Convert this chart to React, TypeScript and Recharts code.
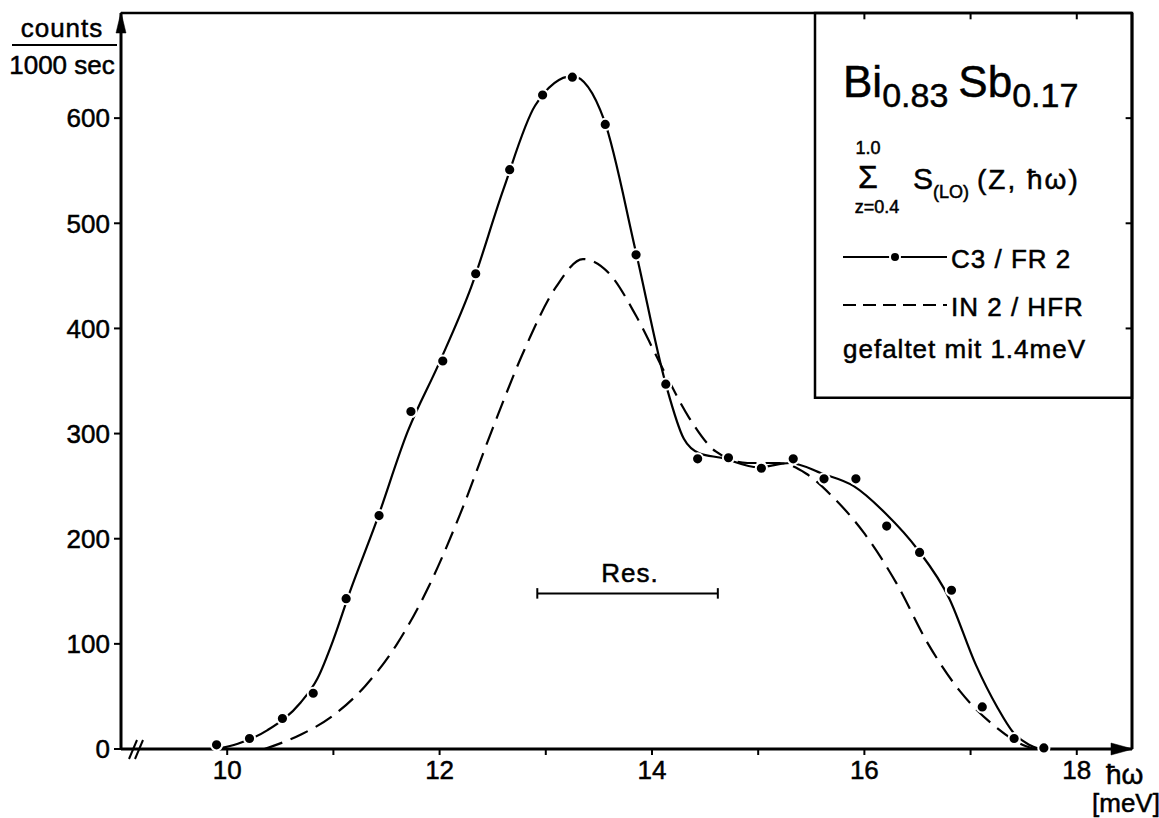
import React from "react";
import {
  ComposedChart,
  Line,
  Scatter,
  XAxis,
  YAxis,
  ReferenceLine,
  ReferenceArea,
} from "recharts";

// measured points (C3 / FR 2)
const dotX = [9.9, 10.21, 10.52, 10.81, 11.12, 11.43, 11.73, 12.03, 12.34, 12.66, 12.97, 13.25, 13.56, 13.85, 14.13, 14.43, 14.72, 15.03, 15.33, 15.62, 15.92, 16.21, 16.52, 16.82, 17.11, 17.41, 17.69];
const dotY = [4, 10, 29, 53, 143, 222, 321, 369, 452, 551, 622, 639, 594, 470, 347, 276, 277, 267, 276, 257, 257, 212, 187, 151, 40, 10, 1];

// solid curve through the points
const solidX = [9.9, 10.1, 10.38, 10.69, 10.85, 11.0, 11.15, 11.4, 11.7, 12.0, 12.3, 12.6, 12.9, 13.25, 13.55, 13.85, 14.13, 14.3, 14.45, 14.65, 15.0, 15.3, 15.6, 15.9, 16.2, 16.5, 16.8, 17.05, 17.25, 17.4, 17.55, 17.65];
const solidY = [0, 5, 18, 44, 67, 104, 148, 215, 302, 368, 440, 532, 612, 640, 598, 472, 347, 295, 281, 277, 268, 272, 262, 250, 224, 190, 143, 80, 40, 16, 4, 0];

// dashed curve (IN 2 / HFR)
const dashX = [10.35, 10.7, 11.0, 11.3, 11.6, 11.9, 12.2, 12.5, 12.8, 13.1, 13.35, 13.6, 13.85, 14.1, 14.35, 14.6, 14.9, 15.2, 15.45, 15.7, 16.0, 16.3, 16.6, 16.9, 17.2, 17.45, 17.6];
const dashY = [0, 14, 32, 60, 100, 155, 225, 305, 380, 440, 466, 452, 412, 362, 315, 283, 272, 272, 262, 240, 205, 158, 100, 55, 24, 6, 0];

const xTicks = [10, 11, 12, 13, 14, 15, 16, 17, 18];
const yTicks = [0, 100, 200, 300, 400, 500, 600];

const FONT = "'Liberation Sans', Arial, sans-serif";

const Dot = (props: any) => {
  const { cx, cy } = props;
  if (cx == null || cy == null) return null;
  return <circle cx={cx} cy={cy} r={5.6} fill="#000" stroke="#fff" strokeWidth={2} />;
};

export default function App() {
  const dots = dotX.map((x, i) => ({ x, y: dotY[i] }));
  const solid = solidX.map((x, i) => ({ x, y: solidY[i] }));
  const dashed = dashX.map((x, i) => ({ x, y: dashY[i] }));

  const tickStyle = { fill: "#000", fontSize: 26, fontFamily: FONT, stroke: "#000", strokeWidth: 0.5 };

  return (
    <div style={{ position: "absolute", left: 0, top: 0, width: 1159, height: 818, background: "#fff" }}>
      <ComposedChart width={1159} height={818} margin={{ top: 13, right: 27, bottom: 39, left: 61 }}>
        <XAxis
          type="number"
          dataKey="x"
          domain={[9, 18.52]}
          ticks={xTicks}
          tickFormatter={(v: number) => (v % 2 === 0 ? String(v) : "")}
          height={30}
          tick={tickStyle}
          tickSize={6}
          tickMargin={6}
          axisLine={{ stroke: "#000", strokeWidth: 3 }}
          tickLine={{ stroke: "#000", strokeWidth: 2 }}
        />
        <YAxis
          type="number"
          dataKey="y"
          domain={[0, 700]}
          ticks={yTicks}
          width={60}
          tick={tickStyle}
          tickSize={7}
          tickMargin={4}
          axisLine={{ stroke: "#000", strokeWidth: 3 }}
          tickLine={{ stroke: "#000", strokeWidth: 2 }}
        />

        {/* frame: top and right */}
        <ReferenceLine y={700} stroke="#000" strokeWidth={2.5} />
        <ReferenceLine x={18.52} stroke="#000" strokeWidth={3} />
        {[16, 17, 18].map((t) => (
          <ReferenceLine key={"tt" + t} segment={[{ x: t, y: 700 }, { x: t, y: 694 }]} stroke="#000" strokeWidth={2} />
        ))}
        {[400, 500, 600].map((t) => (
          <ReferenceLine key={"rt" + t} segment={[{ x: 18.52, y: t }, { x: 18.46, y: t }]} stroke="#000" strokeWidth={2} />
        ))}

        {/* legend box */}
        <ReferenceArea x1={15.535} x2={18.52} y1={334} y2={700} fill="#fff" fillOpacity={1} stroke="#000" strokeWidth={2.5} />

        {/* resolution bar */}
        <ReferenceLine segment={[{ x: 12.92, y: 148 }, { x: 14.62, y: 148 }]} stroke="#000" strokeWidth={2} />
        <ReferenceLine segment={[{ x: 12.92, y: 143 }, { x: 12.92, y: 153 }]} stroke="#000" strokeWidth={2} />
        <ReferenceLine segment={[{ x: 14.62, y: 143 }, { x: 14.62, y: 153 }]} stroke="#000" strokeWidth={2} />

        <Line
          data={dashed}
          dataKey="y"
          type="monotone"
          stroke="#000"
          strokeWidth={2.2}
          strokeDasharray="19 9"
          dot={false}
          isAnimationActive={false}
        />
        <Line
          data={solid}
          dataKey="y"
          type="monotone"
          stroke="#000"
          strokeWidth={2.2}
          dot={false}
          isAnimationActive={false}
        />
        <Scatter data={dots} dataKey="y" fill="#000" shape={Dot} isAnimationActive={false} />
      </ComposedChart>

      <svg
        width={1159}
        height={818}
        style={{ position: "absolute", left: 0, top: 0, pointerEvents: "none" }}
        fontFamily={FONT}
        stroke="#000"
        strokeWidth={0.5}
      >
        {/* y axis title */}
        <text x={62} y={37} textAnchor="middle" fontSize={26} letterSpacing={1}>counts</text>
        <line x1={12} x2={117} y1={45} y2={45} stroke="#000" strokeWidth={2} />
        <text x={62} y={74} textAnchor="middle" fontSize={26}>1000 sec</text>
        {/* arrow heads */}
        <polygon points="121,12 116,33 126,33" fill="#000" />
        <polygon points="1133,749 1111,743 1111,755" fill="#000" />
        {/* axis break */}
        <line x1={129} y1={759} x2={137} y2={740} stroke="#000" strokeWidth={2} />
        <line x1={135} y1={759} x2={143} y2={740} stroke="#000" strokeWidth={2} />
        {/* x axis title */}
        <text x={1106} y={784} fontSize={28}>ħω</text>
        <text x={1092} y={812} fontSize={26}>[meV]</text>
        {/* resolution label */}
        <text x={630} y={582} textAnchor="middle" fontSize={26} letterSpacing={1}>Res.</text>

        {/* legend content */}
        <text x={843} y={97} fontSize={44}>
          Bi<tspan fontSize={34} dy={10}>0.83</tspan>
          <tspan fontSize={44} dy={-10} dx={10}>Sb</tspan>
          <tspan fontSize={34} dy={10}>0.17</tspan>
        </text>
        <text x={868} y={154} textAnchor="middle" fontSize={18}>1.0</text>
        <text x={868} y={188} textAnchor="middle" fontSize={32}>Σ</text>
        <text x={877} y={213} textAnchor="middle" fontSize={18}>z=0.4</text>
        <text x={913} y={189} fontSize={30}>
          S<tspan fontSize={18} dy={9}>(LO)</tspan>
          <tspan fontSize={28} dy={-9} dx={8} letterSpacing={2}>(Z, ħω)</tspan>
        </text>

        <line x1={843} x2={947} y1={257} y2={257} stroke="#000" strokeWidth={2} />
        <circle cx={895} cy={257} r={5} fill="#000" stroke="#fff" strokeWidth={2} />
        <text x={951} y={268} fontSize={26} letterSpacing={1}>C3 / FR 2</text>

        <line x1={843} x2={947} y1={305} y2={305} stroke="#000" strokeWidth={2} strokeDasharray="13 7" />
        <text x={951} y={316} fontSize={26} letterSpacing={1}>IN 2 / HFR</text>

        <text x={843} y={358} fontSize={26} letterSpacing={1}>gefaltet mit 1.4meV</text>
      </svg>
    </div>
  );
}
